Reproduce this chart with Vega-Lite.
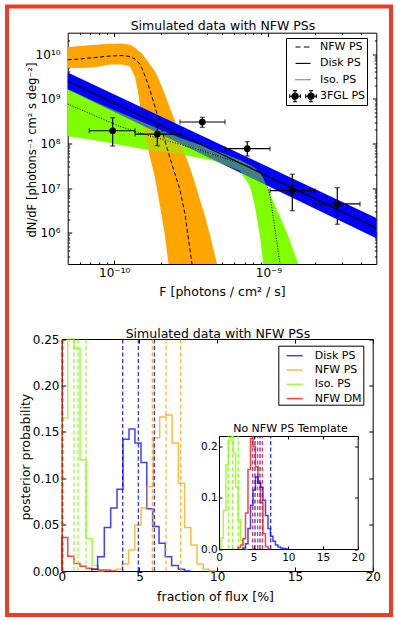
{
"$schema":"https://vega.github.io/schema/vega-lite/v6.json",
"autosize":"none",
"width":384,"height":608.5,
"padding":{"left":7,"top":6.5,"right":4,"bottom":5},
"background":"white",
"config":{
 "view":{"stroke":"#ee3b24","strokeWidth":4},
 "font":"DejaVu Sans",
 "axis":{"grid":false,"domainColor":"black","domainWidth":1,"tickColor":"black","tickWidth":1,"labelColor":"black","titleColor":"black","labelFontSize":12,"titleFontSize":12.5,"titleFontWeight":"normal","labelFont":"DejaVu Sans","titleFont":"DejaVu Sans","labelOverlap":false,"labelFlush":false,"labelBound":false,"zindex":1},
 "legend":{"labelFont":"DejaVu Sans","labelFontSize":11,"labelColor":"black"}
},
"datasets":{
 "nfwBand":[
  {"F":5.0e-11,"lo":4.86e9,"hi":1.41e10},{"F":6.01e-11,"lo":4.86e9,"hi":1.51e10},{"F":7.52e-11,"lo":5.04e9,"hi":1.61e10},
  {"F":9.40e-11,"lo":5.82e9,"hi":1.69e10},{"F":1.125e-10,"lo":5.82e9,"hi":1.73e10},{"F":1.267e-10,"lo":5.25e9,"hi":1.61e10},
  {"F":1.365e-10,"lo":3.05e9,"hi":1.40e10},{"F":1.428e-10,"lo":1.41e9,"hi":1.20e10},{"F":1.472e-10,"lo":6.87e8,"hi":1.11e10},
  {"F":1.516e-10,"lo":3.52e8,"hi":1.03e10},{"F":1.585e-10,"lo":1.39e8,"hi":8.36e9},{"F":1.707e-10,"lo":4.97e7,"hi":5.82e9},
  {"F":1.840e-10,"lo":1.68e7,"hi":4.04e9},{"F":1.982e-10,"lo":3.98e6,"hi":2.37e9},{"F":2.136e-10,"lo":8.47e5,"hi":1.24e9},
  {"F":2.250e-10,"lo":2e5,"hi":7.60e8},{"F":2.479e-10,"lo":2e5,"hi":3.17e8},{"F":2.671e-10,"lo":2e5,"hi":1.25e8},
  {"F":2.878e-10,"lo":2e5,"hi":5.79e7},{"F":3.101e-10,"lo":2e5,"hi":2.82e7},{"F":3.342e-10,"lo":2e5,"hi":1.30e7},
  {"F":3.601e-10,"lo":2e5,"hi":5.42e6},{"F":3.880e-10,"lo":2e5,"hi":2.38e6},{"F":4.180e-10,"lo":2e5,"hi":8.93e5},
  {"F":4.640e-10,"lo":2e5,"hi":2e5}],
 "nfwMed":[
  {"F":5.0e-11,"v":7.45e9},{"F":6.01e-11,"v":7.73e9},{"F":7.52e-11,"v":8.36e9},{"F":9.40e-11,"v":9.02e9},
  {"F":1.125e-10,"v":9.25e9},{"F":1.267e-10,"v":8.79e9},{"F":1.365e-10,"v":7.73e9},{"F":1.428e-10,"v":6.62e9},
  {"F":1.472e-10,"v":5.82e9},{"F":1.516e-10,"v":4.74e9},{"F":1.585e-10,"v":3.22e9},{"F":1.707e-10,"v":1.57e9},
  {"F":1.840e-10,"v":6.51e8},{"F":1.982e-10,"v":2.72e8},{"F":2.136e-10,"v":1.13e8},{"F":2.250e-10,"v":6.10e7},
  {"F":2.479e-10,"v":2.07e7},{"F":2.671e-10,"v":9.06e6},{"F":2.878e-10,"v":2.63e6},{"F":3.101e-10,"v":4.12e5},
  {"F":3.196e-10,"v":2e5}],
 "diskBand":[
  {"F":5e-11,"lo":1.61e9,"mid":2.49e9,"hi":3.86e9},
  {"F":5e-9,"lo":7.57e5,"mid":1.28e6,"hi":2.14e6}],
 "isoBand":[
  {"F":5.0e-11,"lo":1.47e8,"hi":1.65e9},{"F":8.10e-11,"lo":1.13e8,"hi":7.6e8},{"F":1.472e-10,"lo":7.69e7,"hi":3.17e8},
  {"F":2.671e-10,"lo":5.79e7,"hi":1.32e8},{"F":4.503e-10,"lo":4.04e7,"hi":7.11e7},{"F":6.54e-10,"lo":2.41e7,"hi":4.25e7},
  {"F":7.59e-10,"lo":1.11e7,"hi":3.29e7},{"F":8.18e-10,"lo":3.98e6,"hi":2.82e7},{"F":8.82e-10,"lo":8.47e5,"hi":2.23e7},
  {"F":9.26e-10,"lo":2e5,"hi":1.68e7},{"F":9.78e-10,"lo":2e5,"hi":1.06e7},{"F":1.054e-9,"lo":2e5,"hi":5.85e6},
  {"F":1.136e-9,"lo":2e5,"hi":3.24e6},{"F":1.224e-9,"lo":2e5,"hi":1.79e6},{"F":1.319e-9,"lo":2e5,"hi":9.91e5},
  {"F":1.421e-9,"lo":2e5,"hi":4.81e5},{"F":1.561e-9,"lo":2e5,"hi":2e5}],
 "isoMed":[
  {"F":5.0e-11,"v":7.60e8},{"F":1.091e-10,"v":2.39e8},{"F":1.707e-10,"v":1.47e8},{"F":3.601e-10,"v":7.11e7},
  {"F":5.63e-10,"v":4.25e7},{"F":7.59e-10,"v":2.97e7},{"F":8.82e-10,"v":2.29e7},{"F":9.50e-10,"v":1.52e7},
  {"F":1.023e-9,"v":7.01e6},{"F":1.075e-9,"v":2.14e6},{"F":1.131e-9,"v":6.56e5},{"F":1.188e-9,"v":2e5}],
 "fgl":[
  {"F":9.78e-11,"Flo":6.90e-11,"Fhi":1.365e-10,"dN":1.92e8,"lo":8.75e7,"hi":3.76e8},
  {"F":1.905e-10,"Flo":1.365e-10,"Fhi":2.671e-10,"dN":1.62e8,"lo":8.89e7,"hi":2.72e8},
  {"F":3.725e-10,"Flo":2.671e-10,"Fhi":5.23e-10,"dN":3.01e8,"lo":2.29e8,"hi":3.84e8},
  {"F":7.29e-10,"Flo":5.23e-10,"Fhi":1.023e-9,"dN":7.61e7,"lo":5.22e7,"hi":1.09e8},
  {"F":1.428e-9,"Flo":1.023e-9,"Fhi":2.003e-9,"dN":8.75e6,"lo":3.12e6,"hi":2.04e7},
  {"F":2.794e-9,"Flo":2.003e-9,"Fhi":3.921e-9,"dN":4.41e6,"lo":1.55e6,"hi":1.02e7}],
 "legTop":[
  {"s":"NFW PS","F":1e-10,"dN":1e8},{"s":"Disk PS","F":1e-10,"dN":1e8},{"s":"Iso. PS","F":1e-10,"dN":1e8},{"s":"3FGL PS","F":1e-10,"dN":1e8}],
 "hist":[
  {"s":"Iso. PS","x":0,"p":0},{"s":"Iso. PS","x":0.39,"p":0.165},{"s":"Iso. PS","x":0.79,"p":0.3},{"s":"Iso. PS","x":1.18,"p":0.24},
  {"s":"Iso. PS","x":1.57,"p":0.12},{"s":"Iso. PS","x":1.96,"p":0.035},{"s":"Iso. PS","x":2.36,"p":0.006},{"s":"Iso. PS","x":2.75,"p":0},
  {"s":"NFW DM","x":0,"p":0},{"s":"NFW DM","x":0.39,"p":0.036},{"s":"NFW DM","x":0.79,"p":0.016},{"s":"NFW DM","x":1.18,"p":0.008},
  {"s":"NFW DM","x":1.57,"p":0.005},{"s":"NFW DM","x":1.96,"p":0.003},{"s":"NFW DM","x":2.36,"p":0.002},{"s":"NFW DM","x":2.75,"p":0.001},
  {"s":"NFW DM","x":3.14,"p":0.001},{"s":"NFW DM","x":3.54,"p":0},
  {"s":"Disk PS","x":1.93,"p":0},{"s":"Disk PS","x":2.31,"p":0.002},{"s":"Disk PS","x":2.74,"p":0.0154},{"s":"Disk PS","x":3.15,"p":0.047},
  {"s":"Disk PS","x":3.56,"p":0.068},{"s":"Disk PS","x":3.94,"p":0.088},{"s":"Disk PS","x":4.33,"p":0.142},{"s":"Disk PS","x":4.71,"p":0.153},
  {"s":"Disk PS","x":5.10,"p":0.138},{"s":"Disk PS","x":5.47,"p":0.117},{"s":"Disk PS","x":5.85,"p":0.067},{"s":"Disk PS","x":6.26,"p":0.048},
  {"s":"Disk PS","x":6.66,"p":0.030},{"s":"Disk PS","x":7.07,"p":0.0154},{"s":"Disk PS","x":7.5,"p":0.006},{"s":"Disk PS","x":7.9,"p":0.002},
  {"s":"Disk PS","x":8.3,"p":0},
  {"s":"NFW PS","x":3.5,"p":0},{"s":"NFW PS","x":3.9,"p":0.002},{"s":"NFW PS","x":4.3,"p":0.0075},{"s":"NFW PS","x":4.7,"p":0.0226},
  {"s":"NFW PS","x":5.1,"p":0.0496},{"s":"NFW PS","x":5.5,"p":0.068},{"s":"NFW PS","x":5.9,"p":0.091},{"s":"NFW PS","x":6.3,"p":0.1437},
  {"s":"NFW PS","x":6.7,"p":0.166},{"s":"NFW PS","x":7.1,"p":0.168},{"s":"NFW PS","x":7.5,"p":0.138},{"s":"NFW PS","x":7.9,"p":0.0945},
  {"s":"NFW PS","x":8.3,"p":0.047},{"s":"NFW PS","x":8.7,"p":0.028},{"s":"NFW PS","x":9.1,"p":0.0075},{"s":"NFW PS","x":9.5,"p":0.002},
  {"s":"NFW PS","x":9.9,"p":0}],
 "qMain":[
  {"s":"NFW DM","x":0.03},{"s":"NFW DM","x":0.06},
  {"s":"Iso. PS","x":0.79},{"s":"Iso. PS","x":1.05},{"s":"Iso. PS","x":1.56},
  {"s":"Disk PS","x":3.92},{"s":"Disk PS","x":4.93},{"s":"Disk PS","x":5.96},
  {"s":"NFW PS","x":5.83},{"s":"NFW PS","x":6.71},{"s":"NFW PS","x":7.65}],
 "histIn":[
  {"s":"Iso. PS","x":0.29,"p":0},{"s":"Iso. PS","x":0.62,"p":0.021},{"s":"Iso. PS","x":1.0,"p":0.075},{"s":"Iso. PS","x":1.35,"p":0.164},
  {"s":"Iso. PS","x":1.73,"p":0.211},{"s":"Iso. PS","x":2.07,"p":0.219},{"s":"Iso. PS","x":2.4,"p":0.187},{"s":"Iso. PS","x":2.74,"p":0.121},
  {"s":"Iso. PS","x":3.12,"p":0.057},{"s":"Iso. PS","x":3.46,"p":0.0175},{"s":"Iso. PS","x":3.8,"p":0.003},{"s":"Iso. PS","x":4.15,"p":0},
  {"s":"NFW DM","x":2.74,"p":0},{"s":"NFW DM","x":3.1,"p":0.003},{"s":"NFW DM","x":3.46,"p":0.008},{"s":"NFW DM","x":3.82,"p":0.02},
  {"s":"NFW DM","x":4.18,"p":0.07},{"s":"NFW DM","x":4.54,"p":0.155},{"s":"NFW DM","x":4.9,"p":0.215},{"s":"NFW DM","x":5.26,"p":0.2},
  {"s":"NFW DM","x":5.62,"p":0.16},{"s":"NFW DM","x":5.98,"p":0.13},{"s":"NFW DM","x":6.34,"p":0.09},{"s":"NFW DM","x":6.7,"p":0.03},
  {"s":"NFW DM","x":7.06,"p":0.005},{"s":"NFW DM","x":7.42,"p":0},
  {"s":"Disk PS","x":3.46,"p":0},{"s":"Disk PS","x":3.82,"p":0.002},{"s":"Disk PS","x":4.18,"p":0.01},{"s":"Disk PS","x":4.54,"p":0.04},
  {"s":"Disk PS","x":4.9,"p":0.085},{"s":"Disk PS","x":5.26,"p":0.115},{"s":"Disk PS","x":5.62,"p":0.14},{"s":"Disk PS","x":5.98,"p":0.128},
  {"s":"Disk PS","x":6.34,"p":0.12},{"s":"Disk PS","x":6.7,"p":0.095},{"s":"Disk PS","x":7.06,"p":0.065},{"s":"Disk PS","x":7.42,"p":0.04},
  {"s":"Disk PS","x":7.78,"p":0.025},{"s":"Disk PS","x":8.14,"p":0.015},{"s":"Disk PS","x":8.5,"p":0.008},{"s":"Disk PS","x":8.86,"p":0.004},
  {"s":"Disk PS","x":9.22,"p":0.002},{"s":"Disk PS","x":9.6,"p":0.001},{"s":"Disk PS","x":9.96,"p":0}],
 "qIn":[
  {"s":"Iso. PS","x":1.35},{"s":"Iso. PS","x":1.97},{"s":"Iso. PS","x":2.79},
  {"s":"NFW DM","x":4.85},{"s":"NFW DM","x":5.57},{"s":"NFW DM","x":6.25},
  {"s":"Disk PS","x":5.19},{"s":"Disk PS","x":5.91},{"s":"Disk PS","x":7.45}]
},
"layer":[
 {"layer":[
  {"data":{"name":"isoBand"},"mark":{"type":"area","color":"#7fff00","opacity":1},
   "encoding":{
    "x":{"field":"F","type":"quantitative","scale":{"type":"log","domain":[5e-11,5e-9],"range":[60.7,369.3],"nice":false},
     "axis":{"orient":"bottom","offset":-351,"values":[6e-11,7e-11,8e-11,9e-11,1e-10,2e-10,3e-10,4e-10,5e-10,6e-10,7e-10,8e-10,9e-10,1e-9,2e-9,3e-9,4e-9],
      "labelExpr":"datum.value === 1e-10 ? '10⁻¹⁰' : datum.value === 1e-9 ? '10⁻⁹' : ''",
      "tickSize":{"condition":{"test":"indexof([1e-10,1e-9], datum.value) >= 0","value":-4},"value":-2},
      "labelPadding":7,"title":"F  [photons / cm² / s]","titleX":215,"titleY":27.7,"titleBaseline":"middle","titleAlign":"center"}},
    "y":{"field":"lo","type":"quantitative","scale":{"type":"log","domain":[2e5,3e10],"range":[257.5,26.2],"nice":false,"clamp":true},
     "axis":{"orient":"left","offset":-60.7,"values":[3e5,4e5,5e5,6e5,7e5,8e5,9e5,1e6,2e6,3e6,4e6,5e6,6e6,7e6,8e6,9e6,1e7,2e7,3e7,4e7,5e7,6e7,7e7,8e7,9e7,1e8,2e8,3e8,4e8,5e8,6e8,7e8,8e8,9e8,1e9,2e9,3e9,4e9,5e9,6e9,7e9,8e9,9e9,1e10,2e10],
      "labelExpr":"datum.value === 1e6 ? '10⁶' : datum.value === 1e7 ? '10⁷' : datum.value === 1e8 ? '10⁸' : datum.value === 1e9 ? '10⁹' : datum.value === 1e10 ? '10¹⁰' : ''",
      "tickSize":{"condition":{"test":"indexof([1e6,1e7,1e8,1e9,1e10], datum.value) >= 0","value":-4},"value":-2},
      "labelPadding":11.7,"title":"dN/dF [photons⁻¹ cm² s deg⁻²]","titleFontSize":11.5,"titleX":-34.7,"titleY":143,"titleBaseline":"middle","titleAlign":"center","titleAngle":270}},
    "y2":{"field":"hi"}}},
  {"data":{"name":"nfwBand"},"mark":{"type":"area","color":"#ffa500","opacity":1},
   "encoding":{
    "x":{"field":"F","type":"quantitative",
     "axis":{"orient":"top","offset":-26.2,"values":[6e-11,7e-11,8e-11,9e-11,1e-10,2e-10,3e-10,4e-10,5e-10,6e-10,7e-10,8e-10,9e-10,1e-9,2e-9,3e-9,4e-9],"labels":false,
      "tickSize":{"condition":{"test":"indexof([1e-10,1e-9], datum.value) >= 0","value":-4},"value":-2},
      "title":"Simulated data with NFW PSs","titleX":215.5,"titleY":-7.7,"titleBaseline":"middle","titleAlign":"center"}},
    "y":{"field":"lo","type":"quantitative",
     "axis":{"orient":"right","offset":-14.7,"values":[3e5,4e5,5e5,6e5,7e5,8e5,9e5,1e6,2e6,3e6,4e6,5e6,6e6,7e6,8e6,9e6,1e7,2e7,3e7,4e7,5e7,6e7,7e7,8e7,9e7,1e8,2e8,3e8,4e8,5e8,6e8,7e8,8e8,9e8,1e9,2e9,3e9,4e9,5e9,6e9,7e9,8e9,9e9,1e10,2e10],"labels":false,
      "tickSize":{"condition":{"test":"indexof([1e6,1e7,1e8,1e9,1e10], datum.value) >= 0","value":-4},"value":-2},"title":null}},
    "y2":{"field":"hi"}}},
  {"data":{"name":"diskBand"},"mark":{"type":"area","color":"#0000ff","opacity":1},
   "encoding":{"x":{"field":"F","type":"quantitative","axis":null},"y":{"field":"lo","type":"quantitative","axis":null},"y2":{"field":"hi"}}},
  {"data":{"name":"isoBand"},"mark":{"type":"area","color":"#7fff00","opacity":0.5},
   "encoding":{"x":{"field":"F","type":"quantitative","axis":null},"y":{"field":"lo","type":"quantitative","axis":null},"y2":{"field":"hi"}}},
  {"data":{"name":"nfwMed"},"mark":{"type":"line","color":"black","strokeWidth":1,"strokeDash":[4,2.5]},
   "encoding":{"x":{"field":"F","type":"quantitative","axis":null},"y":{"field":"v","type":"quantitative","axis":null}}},
  {"data":{"name":"diskBand"},"mark":{"type":"line","color":"black","strokeWidth":1.2},
   "encoding":{"x":{"field":"F","type":"quantitative","axis":null},"y":{"field":"mid","type":"quantitative","axis":null}}},
  {"data":{"name":"isoMed"},"mark":{"type":"line","color":"black","strokeWidth":1,"strokeDash":[1,1.6]},
   "encoding":{"x":{"field":"F","type":"quantitative","axis":null},"y":{"field":"v","type":"quantitative","axis":null}}},
  {"data":{"name":"fgl"},"mark":{"type":"errorbar","ticks":{"size":5},"color":"black","thickness":1.2},
   "encoding":{"x":{"field":"Flo","type":"quantitative","axis":null},"x2":{"field":"Fhi"},"y":{"field":"dN","type":"quantitative","axis":null}}},
  {"data":{"name":"fgl"},"mark":{"type":"errorbar","ticks":{"size":5},"color":"black","thickness":1.2},
   "encoding":{"y":{"field":"lo","type":"quantitative","axis":null},"y2":{"field":"hi"},"x":{"field":"F","type":"quantitative","axis":null}}},
  {"data":{"name":"fgl"},"mark":{"type":"point","filled":true,"color":"black","size":45,"opacity":1},
   "encoding":{"x":{"field":"F","type":"quantitative","axis":null},"y":{"field":"dN","type":"quantitative","axis":null}}},
  {"data":{"name":"legTop"},"mark":{"type":"point","filled":false,"color":"black","opacity":0},
   "encoding":{"x":{"field":"F","type":"quantitative","axis":null},"y":{"field":"dN","type":"quantitative","axis":null},
    "shape":{"field":"s","type":"nominal",
     "scale":{"domain":["NFW PS","Disk PS","Iso. PS","3FGL PS"],
      "range":["M-1.07,0H-0.36M0.13,0H0.93",
               "M-1.07,0H1.07",
               "M-1.07,0H-0.93M-0.79,0H-0.64M-0.5,0H-0.36M-0.21,0H-0.07M0.07,0H0.21M0.36,0H0.5M0.64,0H0.79M0.93,0H1.07",
               "M-1.9,0H-0.38M-1.9,-0.29V0.29M-0.38,-0.29V0.29M-1.14,-0.79V0.79M-1.43,-0.79H-0.85M-1.43,0.79H-0.85M-0.69,0A0.45,0.45 0 1,1 -1.59,0A0.45,0.45 0 1,1 -0.69,0M-0.84,0A0.3,0.3 0 1,1 -1.44,0A0.3,0.3 0 1,1 -0.84,0M-0.99,0A0.15,0.15 0 1,1 -1.29,0A0.15,0.15 0 1,1 -0.99,0M0.38,0H1.9M0.38,-0.29V0.29M1.9,-0.29V0.29M1.14,-0.79V0.79M0.85,-0.79H1.43M0.85,0.79H1.43M1.59,0A0.45,0.45 0 1,1 0.69,0A0.45,0.45 0 1,1 1.59,0M1.44,0A0.3,0.3 0 1,1 0.84,0A0.3,0.3 0 1,1 1.44,0M1.29,0A0.15,0.15 0 1,1 0.99,0A0.15,0.15 0 1,1 1.29,0"]},
     "legend":{"orient":"none","legendX":279,"legendY":31.5,"title":null,"padding":1,"symbolSize":196,"symbolOffset":8,"labelOffset":9,"rowPadding":3.4,
      "strokeColor":"black","fillColor":"white","symbolOpacity":1,"symbolStrokeWidth":1.1,"symbolStrokeColor":"black","labelFontSize":11,"cornerRadius":0}}}}
 ]},
 {"layer":[
  {"data":{"name":"hist"},"mark":{"type":"line","interpolate":"step-before","strokeWidth":1.5,"opacity":0.75},
   "encoding":{
    "x":{"field":"x","type":"quantitative","scale":{"domain":[0,20],"range":[54.7,365.7],"nice":false,"zero":false},
     "axis":{"orient":"top","offset":-332.5,"values":[0,5,10,15,20],"labels":false,"tickSize":-4,
      "title":"Simulated data with NFW PSs","titleX":210.5,"titleY":-5.5,"titleBaseline":"middle","titleAlign":"center"}},
    "y":{"field":"p","type":"quantitative","scale":{"domain":[0,0.25],"range":[564.5,332.5],"nice":false,"clamp":true},
     "axis":{"orient":"right","offset":-18.3,"values":[0,0.05,0.1,0.15,0.2,0.25],"labels":false,"tickSize":-4,"title":null}},
    "color":{"field":"s","type":"nominal","scale":{"domain":["Disk PS","NFW PS","Iso. PS","NFW DM"],"range":["#0000ff","#ffa500","#7fff00","#ff0000"]},
     "legend":{"orient":"none","legendX":271.3,"legendY":339.2,"title":null,"padding":1,"symbolType":"stroke","symbolSize":256,"symbolStrokeWidth":1.5,
      "symbolOffset":6.4,"labelOffset":11,"rowPadding":0.3,"strokeColor":"black","fillColor":"white","labelFontSize":11,"cornerRadius":0}}}},
  {"data":{"name":"qMain"},"mark":{"type":"rule","strokeDash":[4,2.5],"strokeWidth":1.3,"opacity":0.8},
   "encoding":{
    "x":{"field":"x","type":"quantitative",
     "axis":{"orient":"bottom","offset":-44,"values":[0,5,10,15,20],"format":"d","tickSize":-4,"labelPadding":4.5,
      "title":"fraction of flux [%]","titleX":208,"titleY":25,"titleBaseline":"middle","titleAlign":"center"}},
    "y":{"datum":0,"type":"quantitative",
     "axis":{"orient":"left","offset":-54.7,"values":[0,0.05,0.1,0.15,0.2,0.25],"format":".2f","tickSize":-4,"labelPadding":6.7,
      "title":"posterior probability","titleX":-36.7,"titleY":450.2,"titleBaseline":"middle","titleAlign":"center","titleAngle":270}},
    "y2":{"datum":0.25},
    "stroke":{"field":"s","type":"nominal","scale":{"domain":["Disk PS","NFW PS","Iso. PS","NFW DM"],"range":["#0000ff","#ffa500","#7fff00","#ff0000"]},"legend":null}}}
 ]},
 {"layer":[
  {"data":{"name":"qIn"},"mark":{"type":"rule","strokeDash":[4,2.5],"strokeWidth":1.3,"opacity":0.8},
   "encoding":{
    "x":{"field":"x","type":"quantitative","scale":{"domain":[0,20],"range":[212,350.7],"nice":false,"zero":false},
     "axis":{"orient":"bottom","offset":-66,"values":[0,5,10,15,20],"format":"d","tickSize":-3,"labelPadding":6,"labelFontSize":10.5,"title":null}},
    "y":{"datum":0,"type":"quantitative","scale":{"domain":[0,0.22],"range":[542.5,429.5],"nice":false,"clamp":true},
     "axis":{"orient":"left","offset":-212,"values":[0,0.1,0.2],"format":".1f","tickSize":-3,"labelPadding":4.7,"labelFontSize":10.5,"title":null}},
    "y2":{"datum":0.22},
    "stroke":{"field":"s","type":"nominal","legend":null}}},
  {"data":{"name":"histIn"},"mark":{"type":"line","interpolate":"step-before","strokeWidth":1.5,"opacity":0.75},
   "encoding":{
    "x":{"field":"x","type":"quantitative",
     "axis":{"orient":"top","offset":-429.5,"values":[0,5,10,15,20],"labels":false,"tickSize":-3,
      "title":"No NFW PS Template","titleFontSize":11,"titleX":283,"titleY":-7.7,"titleBaseline":"middle","titleAlign":"center"}},
    "y":{"field":"p","type":"quantitative",
     "axis":{"orient":"right","offset":-33.3,"values":[0,0.1,0.2],"labels":false,"tickSize":-3,"title":null}},
    "stroke":{"field":"s","type":"nominal","legend":null}}}
 ]}
],
"resolve":{"scale":{"x":"independent","y":"independent"},"axis":{"x":"independent","y":"independent"}}
}
